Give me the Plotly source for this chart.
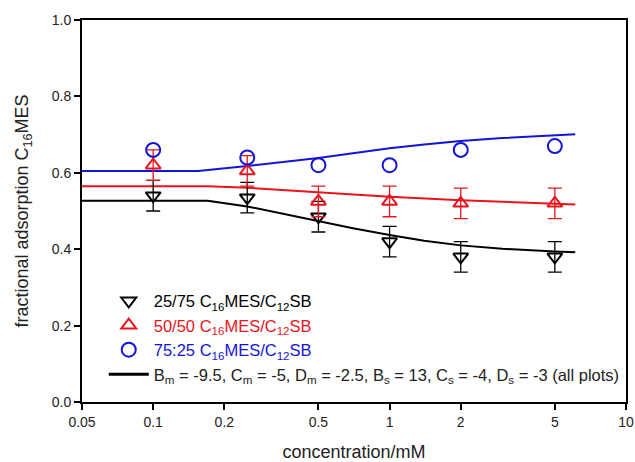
import plotly.graph_objects as go

# data points
conc = [0.1, 0.25, 0.5, 1, 2, 5]
y_2575 = [0.54, 0.535, 0.485, 0.42, 0.38, 0.38]
err_2575 = [0.04, 0.04, 0.04, 0.04, 0.04, 0.04]
y_5050 = [0.62, 0.605, 0.525, 0.525, 0.52, 0.52]
err_5050 = [0.04, 0.04, 0.04, 0.04, 0.04, 0.04]
y_7525 = [0.66, 0.64, 0.62, 0.62, 0.66, 0.67]

# model curves
fit_x_2575 = [0.05, 0.17, 0.25, 0.35, 0.5, 0.7, 1, 1.4, 2, 3, 5, 6.1]
fit_y_2575 = [0.527, 0.527, 0.512, 0.493, 0.472, 0.455, 0.437, 0.422, 0.41, 0.401, 0.394, 0.392]
fit_x_5050 = [0.05, 0.17, 0.25, 0.5, 1, 2, 5, 6.1]
fit_y_5050 = [0.565, 0.565, 0.561, 0.549, 0.537, 0.528, 0.519, 0.517]
fit_x_7525 = [0.05, 0.155, 0.25, 0.35, 0.5, 0.7, 1, 1.4, 2, 3, 5, 6.1]
fit_y_7525 = [0.605, 0.605, 0.618, 0.628, 0.639, 0.651, 0.664, 0.674, 0.683, 0.691, 0.698, 0.701]

x_tickvals = [0.05, 0.1, 0.2, 0.5, 1, 2, 5, 10]
x_ticktext = ["0.05", "0.1", "0.2", "0.5", "1", "2", "5", "10"]
y_tickvals = [0.0, 0.2, 0.4, 0.6, 0.8, 1.0]
y_ticktext = ["0.0", "0.2", "0.4", "0.6", "0.8", "1.0"]

BLACK = "#000000"
RED = "#e8141c"
BLUE = "#1414d8"

fig = go.Figure()

fig.add_trace(go.Scatter(x=fit_x_7525, y=fit_y_7525, mode="lines",
                         line=dict(color=BLUE, width=2), showlegend=False))
fig.add_trace(go.Scatter(x=fit_x_5050, y=fit_y_5050, mode="lines",
                         line=dict(color=RED, width=2), showlegend=False))
fig.add_trace(go.Scatter(x=fit_x_2575, y=fit_y_2575, mode="lines",
                         line=dict(color=BLACK, width=2), showlegend=False))

fig.add_trace(go.Scatter(
    x=conc, y=y_2575, mode="markers",
    marker=dict(symbol="triangle-down-open", size=13, color=BLACK, line=dict(width=2, color=BLACK)),
    error_y=dict(type="data", array=err_2575, color=BLACK, thickness=1.3, width=7),
    name='<span style="color:#000000">25/75 C<sub>16</sub>MES/C<sub>12</sub>SB</span>'))
fig.add_trace(go.Scatter(
    x=conc, y=y_5050, mode="markers",
    marker=dict(symbol="triangle-up-open", size=13, color=RED, line=dict(width=2, color=RED)),
    error_y=dict(type="data", array=err_5050, color=RED, thickness=1.3, width=7),
    name='<span style="color:#e8141c">50/50 C<sub>16</sub>MES/C<sub>12</sub>SB</span>'))
fig.add_trace(go.Scatter(
    x=conc, y=y_7525, mode="markers",
    marker=dict(symbol="circle-open", size=14, color=BLUE, line=dict(width=2, color=BLUE)),
    name='<span style="color:#1414d8">75:25 C<sub>16</sub>MES/C<sub>12</sub>SB</span>'))
fig.add_trace(go.Scatter(
    x=[None], y=[None], mode="lines", line=dict(color=BLACK, width=3),
    name="B<sub>m</sub> = -9.5, C<sub>m</sub> = -5, D<sub>m</sub> = -2.5, B<sub>s</sub> = 13, C<sub>s</sub> = -4, D<sub>s</sub> = -3 (all plots)"))

fig.update_layout(
    width=635, height=462,
    margin=dict(l=82, r=9, t=20, b=60, autoexpand=False),
    paper_bgcolor="white", plot_bgcolor="white",
    font=dict(family="Liberation Sans, Arial, sans-serif", size=14, color="#222"),
    showlegend=True,
    legend=dict(x=0.04, y=0.31, xanchor="left", yanchor="top",
                bgcolor="rgba(0,0,0,0)", font=dict(size=16.5), tracegroupgap=0,
                itemwidth=40),
    xaxis=dict(type="log", range=[-1.30103, 1.0], tickvals=x_tickvals, ticktext=x_ticktext,
               ticks="outside", ticklen=6, tickwidth=1.5, tickcolor="#000",
               showline=True, linecolor="#000", linewidth=2, mirror=True,
               showgrid=False, zeroline=False, automargin=False,
               title=dict(text="concentration/mM", standoff=17,
                          font=dict(size=18, family="Liberation Sans, Arial, sans-serif", color="#222"))),
    yaxis=dict(range=[0, 1.0], tickvals=y_tickvals, ticktext=y_ticktext,
               ticks="outside", ticklen=6, tickwidth=1.5, tickcolor="#000",
               showline=True, linecolor="#000", linewidth=2, mirror=True,
               showgrid=False, zeroline=False, automargin=False,
               title=dict(text="fractional adsorption C<sub>16</sub>MES", standoff=18,
                          font=dict(size=18, family="Liberation Sans, Arial, sans-serif", color="#222"))),
)

fig.write_html("out.html")
